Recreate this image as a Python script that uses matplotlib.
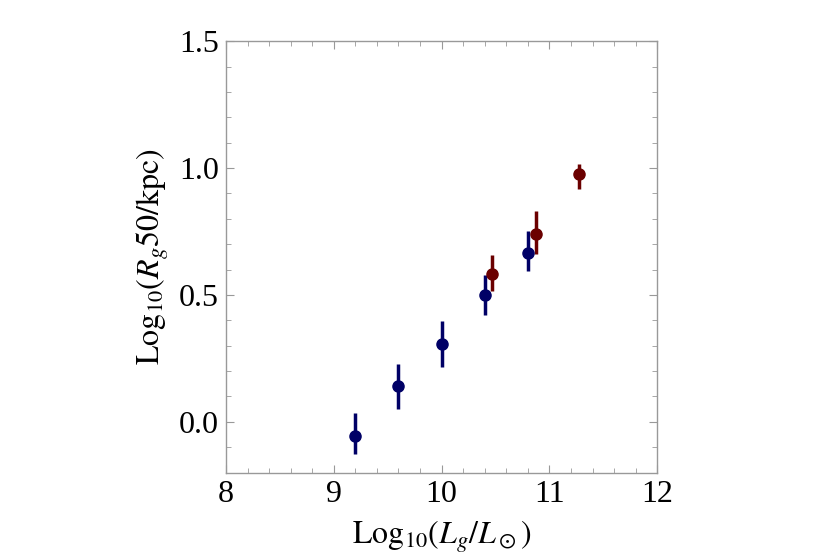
import matplotlib
matplotlib.use("Agg")
import matplotlib.pyplot as plt
from matplotlib.ticker import MultipleLocator

plt.rcParams['font.family'] = ['Liberation Serif', 'DejaVu Serif']
plt.rcParams['mathtext.fontset'] = 'stix'

# Blue series
blue_x = [9.2, 9.6, 10.0, 10.4, 10.8]
blue_y = [-0.057, 0.141, 0.306, 0.501, 0.664]
blue_err_lo = [0.068, 0.092, 0.088, 0.080, 0.069]
blue_err_hi = [0.092, 0.085, 0.091, 0.077, 0.086]

# Red series
red_x = [10.47, 10.873, 11.27]
red_y = [0.581, 0.740, 0.975]
red_err_lo = [0.065, 0.079, 0.059]
red_err_hi = [0.075, 0.091, 0.041]

fig = plt.figure(figsize=(8.34, 5.56), dpi=100)
ax = fig.add_axes([0.271, 0.150, 0.517, 0.776])

blue_c = '#000066'
red_c = '#6b0000'

ax.errorbar(blue_x, blue_y, yerr=[blue_err_lo, blue_err_hi], fmt='o', color=blue_c,
            ms=8, elinewidth=2.5, capsize=0)
ax.errorbar(red_x, red_y, yerr=[red_err_lo, red_err_hi], fmt='o', color=red_c,
            ms=8, elinewidth=2.5, capsize=0)

ax.set_xlim(8, 12)
ax.set_ylim(-0.2, 1.5)
ax.xaxis.set_major_locator(MultipleLocator(1))
ax.xaxis.set_minor_locator(MultipleLocator(0.2))
ax.yaxis.set_minor_locator(MultipleLocator(0.1))
ax.set_yticks([0.0, 0.5, 1.0, 1.5])
ax.set_yticklabels(['0.0', '0.5', '1.0', '1.5'])

frame_c = '#999999'
for s in ax.spines.values():
    s.set_color(frame_c)
    s.set_linewidth(1.0)
ax.tick_params(which='both', direction='in', top=True, right=True, color=frame_c,
               labelsize=23, pad=5)
ax.tick_params(which='major', length=6, width=0.8)
ax.tick_params(which='minor', length=3.5, width=0.6)

ax.set_xlabel(r'$\mathrm{Log}_{10}(L_g/L_\odot)$', fontsize=23, labelpad=7)
ax.set_ylabel(r'$\mathrm{Log}_{10}(R_g 50/\mathrm{kpc})$', fontsize=23, labelpad=6)

fig.savefig('out.png', dpi=100)
